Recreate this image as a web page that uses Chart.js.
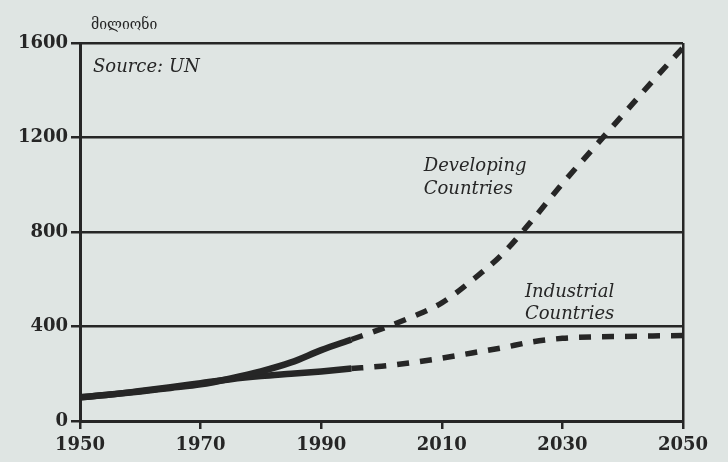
<!DOCTYPE html>
<html>
<head>
<meta charset="utf-8">
<script src="https://cdn.jsdelivr.net/npm/chart.js@4"></script>
<style>
  html, body { margin: 0; padding: 0; background: #dfe5e3; }
  #wrap { width: 728px; height: 462px; }
</style>
</head>
<body>
<div id="wrap"><canvas id="popChart" width="728" height="462"></canvas></div>
<script>
// values in millions
const yearsHist = [1950, 1955, 1960, 1965, 1970, 1975, 1980, 1985, 1990, 1995];
const yearsProj = [1995, 2000, 2005, 2010, 2015, 2020, 2025, 2030, 2035, 2040, 2045, 2050];
const developingHist = [100, 112, 125, 140, 155, 180, 210, 248, 300, 345];
const developingProj = [345, 390, 440, 500, 595, 705, 850, 1005, 1150, 1295, 1440, 1580];
const industrialHist = [100, 112, 127, 143, 160, 177, 190, 200, 210, 222];
const industrialProj = [222, 232, 247, 266, 288, 310, 335, 350, 356, 358, 360, 362];
const yTicks = [0, 400, 800, 1200, 1600];
const xTicks = [1950, 1970, 1990, 2010, 2030, 2050];

const ink = '#262626';

function pts(xs, ys) {
    return xs.map((x, i) => ({ x: x, y: ys[i] }));
}

// background + free text labels
const paperPlugin = {
    id: 'paper',
    beforeDraw(chart) {
        const c = chart.ctx;
        c.save();
        c.fillStyle = '#dfe5e3';
        c.fillRect(0, 0, chart.width, chart.height);
        c.restore();
    },
    afterDraw(chart) {
        const c = chart.ctx;
        const xs = chart.scales.x, ys = chart.scales.y;
        c.save();
        c.fillStyle = ink;
        c.textBaseline = 'alphabetic';
        c.textAlign = 'left';
        c.font = '14px "DejaVu Serif"';
        c.fillText('მილიონი', 91, 29);
        c.font = 'italic 18px "DejaVu Serif"';
        c.fillText('Source: UN', 93, 72);
        const dx = xs.getPixelForValue(2007);
        c.fillText('Developing', dx, ys.getPixelForValue(1060));
        c.fillText('Countries', dx, ys.getPixelForValue(960));
        const ix = xs.getPixelForValue(2023.8);
        c.fillText('Industrial', ix, ys.getPixelForValue(525));
        c.fillText('Countries', ix, ys.getPixelForValue(430));
        c.restore();
    }
};

const ctx = document.getElementById('popChart').getContext('2d');
new Chart(ctx, {
    type: 'line',
    data: {
        datasets: [
            { data: pts(yearsHist, developingHist), borderWidth: 6.5 },
            { data: pts(yearsProj, developingProj), borderWidth: 5.5, borderDash: [12, 11] },
            { data: pts(yearsHist, industrialHist), borderWidth: 6.5 },
            { data: pts(yearsProj, industrialProj), borderWidth: 5.5, borderDash: [12, 11] }
        ].map(d => Object.assign(d, {
            borderColor: ink,
            pointRadius: 0,
            fill: false,
            cubicInterpolationMode: 'monotone'
        }))
    },
    options: {
        responsive: false,
        animation: false,
        layout: { padding: { left: 0, right: 45, top: 43, bottom: 0 } },
        plugins: { legend: { display: false }, tooltip: { enabled: false } },
        scales: {
            x: {
                type: 'linear',
                min: 1950,
                max: 2050,
                afterBuildTicks: s => { s.ticks = xTicks.map(v => ({ value: v })); },
                afterFit: s => { s.height = 41; },
                ticks: {
                    color: ink,
                    font: { family: 'DejaVu Serif', size: 18, weight: 'bold' },
                    padding: 6,
                    maxRotation: 0,
                    callback: v => String(v)
                },
                grid: {
                    color: c => (c.tick && c.tick.value === 2050) ? ink : 'transparent',
                    tickColor: ink,
                    lineWidth: 2.5,
                    tickLength: 8
                },
                border: { color: ink, width: 3 }
            },
            y: {
                min: 0,
                max: 1600,
                afterBuildTicks: s => { s.ticks = yTicks.map(v => ({ value: v })); },
                afterFit: s => { s.width = 80; },
                ticks: {
                    color: ink,
                    font: { family: 'DejaVu Serif', size: 18, weight: 'bold' },
                    padding: 3,
                    callback: v => String(v)
                },
                grid: {
                    color: ink,
                    lineWidth: 2.5,
                    tickLength: 9
                },
                border: { color: ink, width: 3 }
            }
        }
    },
    plugins: [paperPlugin]
});
</script>
</body>
</html>
